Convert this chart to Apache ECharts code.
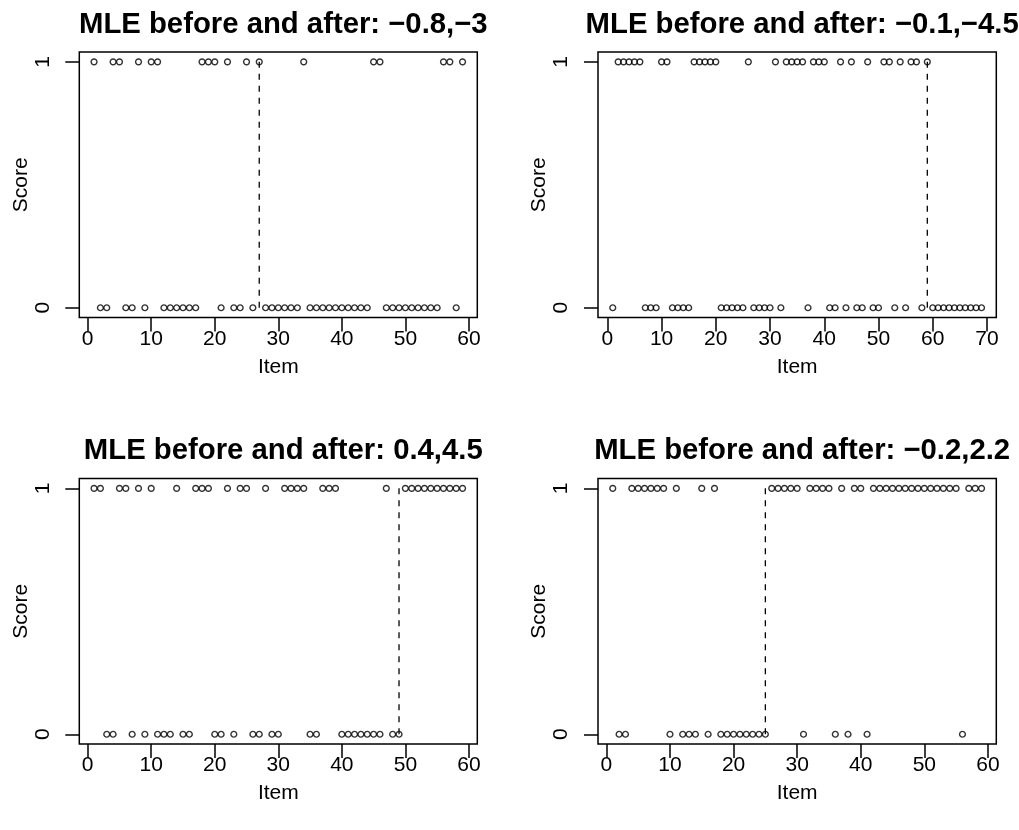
<!DOCTYPE html>
<html>
<head>
<meta charset="utf-8">
<script src="https://cdn.jsdelivr.net/npm/echarts@6/dist/echarts.min.js"></script>
<style>html,body{margin:0;padding:0;background:#fff;}#c{width:1019px;height:830px;}</style>
</head>
<body>
<div id="c"></div>
<script>
// ---- data (score of each item, item index = position + 1) ----
const scores1 = [1,0,0,1,1,0,0,1,0,1, 1,0,0,0,0,0,0,1,1,1, 0,1,0,0,1,0,1,0,0,0, 0,0,0,1,0,0,0,0,0,0, 0,0,0,0,1,1,0,0,0,0, 0,0,0,0,0,1,1,0,1];
const scores2 = [0,1,1,1,1,1,0,0,0,1, 1,0,0,0,0,1,1,1,1,1, 0,0,0,0,0,1,0,0,0,0, 1,0,1,1,1,1,0,1,1,1, 0,0,1,0,1,0,0,1,0,0, 1,1,0,1,0,1,1,0,1,0, 0,0,0,0,0,0,0,0,0];
const scores3 = [1,1,0,0,1,1,0,1,0,1, 0,0,0,1,0,0,1,1,1,0, 0,1,0,1,1,0,0,1,0,0, 1,1,1,1,0,0,1,1,1,0, 0,0,0,0,0,0,1,0,0,1, 1,1,1,1,1,1,1,1,1];
const scores4 = [1,0,0,1,1,1,1,1,1,0, 1,0,0,0,1,0,1,0,0,0, 0,0,0,0,0,1,1,1,1,1, 0,1,1,1,1,0,1,0,1,1, 0,1,1,1,1,1,1,1,1,1, 1,1,1,1,1,0,1,1,1];
const changePoints = [27, 59, 49, 25];
const titles = [
  "MLE before and after: \u22120.8,\u22123",
  "MLE before and after: \u22120.1,\u22124.5",
  "MLE before and after: 0.4,4.5",
  "MLE before and after: \u22120.2,2.2"
];
const xTicks1 = [0,10,20,30,40,50,60];
const xTicks2 = [0,10,20,30,40,50,60,70];
const xTicks3 = [0,10,20,30,40,50,60];
const xTicks4 = [0,10,20,30,40,50,60];
const yTicks = [0, 1];
const xName = "Item";
const yName = "Score";

const allScores = [scores1, scores2, scores3, scores4];
const allXTicks = [xTicks1, xTicks2, xTicks3, xTicks4];

// ---- layout ----
const FONT = "'Liberation Sans', Arial, Helvetica, sans-serif";
const boxes = [
  {left: 79.3, top: 52, width: 398, height: 265.6},
  {left: 598, top: 52, width: 398.3, height: 265.6},
  {left: 79.3, top: 478.5, width: 398, height: 265.6},
  {left: 598, top: 478.5, width: 398.3, height: 265.6}
];

const grid = [], xAxis = [], yAxis = [], series = [], title = [];
boxes.forEach((b, i) => {
  const sc = allScores[i];
  const n = sc.length;
  const ext = 0.04 * (n - 1);
  grid.push({left: b.left, top: b.top, width: b.width, height: b.height,
    show: true, borderColor: '#000', borderWidth: 1.5, backgroundColor: 'transparent', containLabel: false});
  xAxis.push({
    type: 'value', gridIndex: i, min: 1 - ext, max: n + ext, position: 'bottom',
    axisLine: {show: false, onZero: false},
    splitLine: {show: false},
    axisTick: {show: true, length: 14, lineStyle: {color: '#000', width: 1.5}, customValues: allXTicks[i]},
    axisLabel: {show: true, customValues: allXTicks[i], color: '#000', fontSize: 21, fontFamily: FONT, margin: 11},
    name: xName, nameLocation: 'middle', nameGap: 39,
    nameTextStyle: {color: '#000', fontSize: 21, fontFamily: FONT}
  });
  yAxis.push({
    type: 'value', gridIndex: i, min: -0.04, max: 1.04, position: 'left',
    axisLine: {show: false, onZero: false},
    splitLine: {show: false},
    axisTick: {show: true, length: 14, lineStyle: {color: '#000', width: 1.5}, customValues: yTicks},
    axisLabel: {show: true, customValues: yTicks, rotate: 90, color: '#000', fontSize: 21, fontFamily: FONT, margin: 26},
    name: yName, nameLocation: 'middle', nameGap: 41, nameRotate: 90,
    nameTextStyle: {color: '#000', fontSize: 21, fontFamily: FONT}
  });
  series.push({
    type: 'scatter', xAxisIndex: i, yAxisIndex: i,
    data: sc.map((v, k) => [k + 1, v]),
    symbol: 'circle', symbolSize: 5.8,
    itemStyle: {color: 'rgba(0,0,0,0)', borderColor: '#000', borderWidth: 1.4},
    emphasis: {disabled: true}, silent: true, z: 3
  });
  series.push({
    type: 'line', xAxisIndex: i, yAxisIndex: i,
    data: [[changePoints[i], 0], [changePoints[i], 1]],
    symbol: 'none', silent: true, z: 2,
    lineStyle: {color: '#000', width: 1.3, type: [6, 6]}
  });
  title.push({
    text: titles[i], left: b.left + b.width / 2, top: b.top - 47, textAlign: 'center',
    textStyle: {color: '#000', fontSize: 29.3, fontWeight: 'bold', fontFamily: FONT}
  });
});

const chart = echarts.init(document.getElementById('c'), null, {renderer: 'canvas'});
chart.setOption({backgroundColor: '#fff', animation: false, title, grid, xAxis, yAxis, series});
</script>
</body>
</html>
